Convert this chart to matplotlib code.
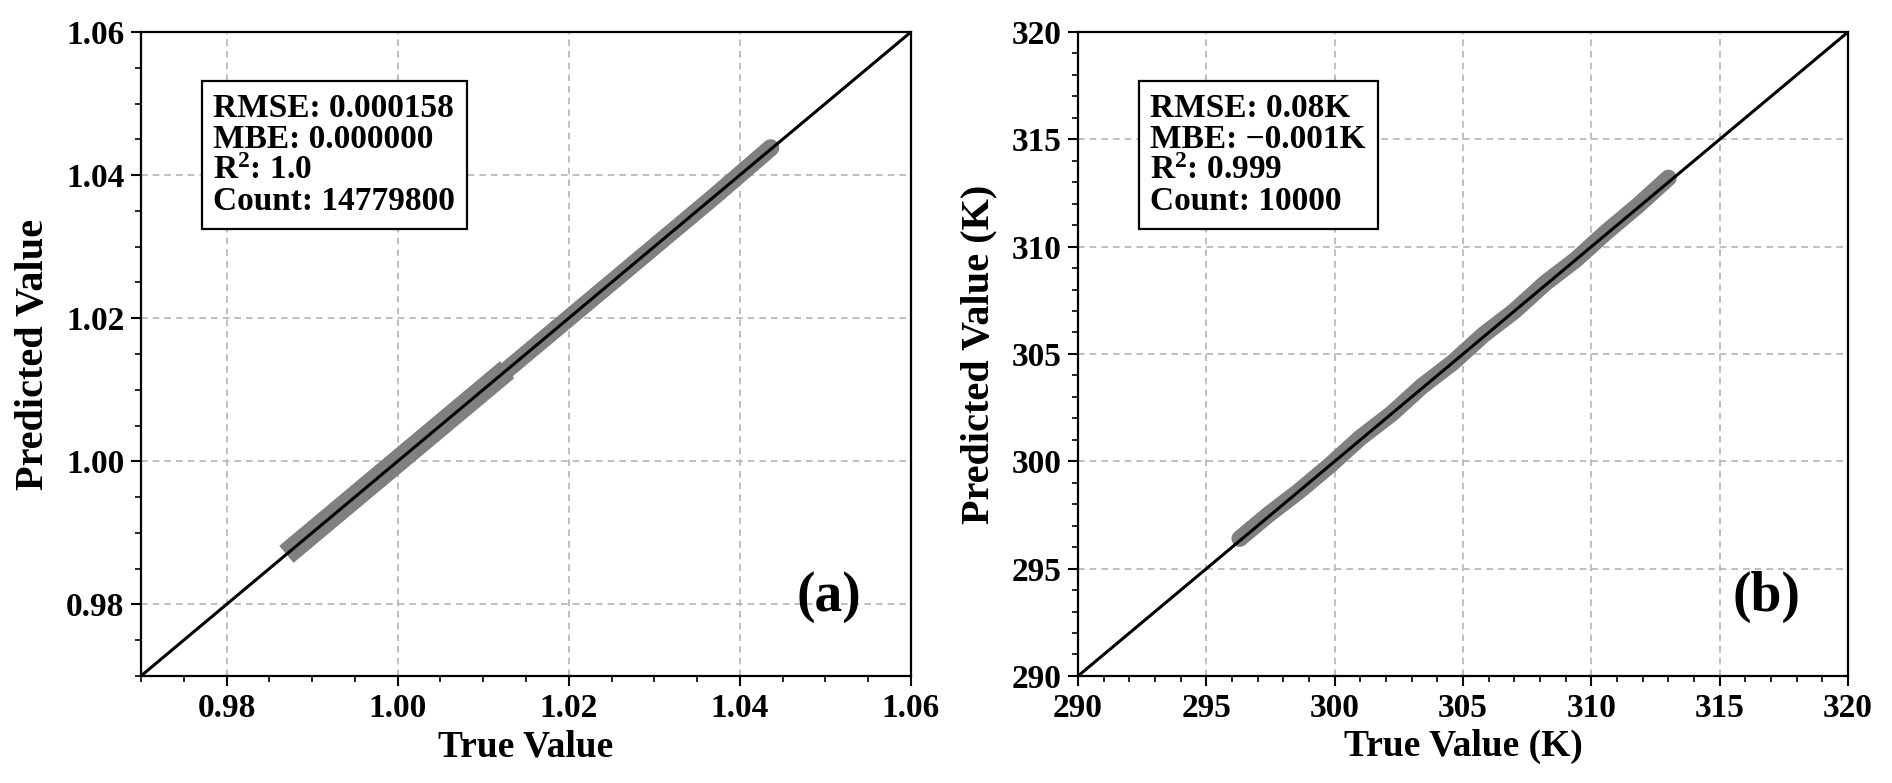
import matplotlib
matplotlib.use("Agg")
import matplotlib.pyplot as plt
from matplotlib.ticker import MultipleLocator

# ---- data ----
# panel (a): dimensionless value, two parts of the cloud (dense lower part, thinner upper part)
true_a_low = [0.9870, 0.9935, 1.0000, 1.0065, 1.0128]
pred_a_low = [0.9870, 0.9935, 1.0000, 1.0065, 1.0128]
true_a_high = [1.0128, 1.0190, 1.0250, 1.0310, 1.0370, 1.0436]
pred_a_high = [1.0128, 1.0190, 1.0250, 1.0310, 1.0370, 1.0438]
stats_a = ["RMSE: 0.000158", "MBE: 0.000000", "R$^2$: 1.0", "Count: 14779800"]

# panel (b): temperature in K
true_b = [296.3, 297.4, 298.6, 299.8, 301.0, 302.2, 303.4, 304.6, 305.8,
          307.0, 308.2, 309.4, 310.6, 311.8, 313.0]
pred_b = [296.4, 297.5, 298.6, 299.8, 301.1, 302.2, 303.5, 304.6, 305.9,
          307.0, 308.3, 309.4, 310.7, 311.9, 313.2]
stats_b = ["RMSE: 0.08K", "MBE: \u22120.001K", "R$^2$: 0.999", "Count: 10000"]

plt.rcParams["font.family"] = ["Liberation Serif", "DejaVu Serif"]
plt.rcParams["font.weight"] = "bold"
plt.rcParams["mathtext.fontset"] = "custom"
plt.rcParams["mathtext.rm"] = "Liberation Serif:bold"
plt.rcParams["mathtext.it"] = "Liberation Serif:bold"
plt.rcParams["mathtext.bf"] = "Liberation Serif:bold"

BAND = "#808080"

fig = plt.figure(figsize=(18.92, 7.83), dpi=100)
ax_a = fig.add_axes([0.0745, 0.1367, 0.4070, 0.8225])
ax_b = fig.add_axes([0.5698, 0.1367, 0.4070, 0.8225])


def style_axes(ax, lim, major, minor, xlabel, ylabel, tag):
    ax.set_xlim(lim)
    ax.set_ylim(lim)
    ax.plot(lim, lim, color="black", lw=2.2, zorder=4)
    ax.xaxis.set_major_locator(MultipleLocator(major))
    ax.yaxis.set_major_locator(MultipleLocator(major))
    ax.xaxis.set_minor_locator(MultipleLocator(minor))
    ax.yaxis.set_minor_locator(MultipleLocator(minor))
    ax.grid(True, which="major", color="#b4b4b4", ls=(0, (4, 3)), lw=1.2, zorder=0)
    ax.set_axisbelow(True)
    ax.tick_params(which="major", length=7, width=1.5, labelsize=24, pad=5)
    ax.tick_params(which="minor", length=4, width=1.2)
    for lab in ax.get_xticklabels() + ax.get_yticklabels():
        lab.set_fontweight("bold")
    for sp in ax.spines.values():
        sp.set_linewidth(1.6)
    ax.set_xlabel(xlabel, fontsize=27, fontweight="bold", labelpad=4)
    ax.set_ylabel(ylabel, fontsize=29, fontweight="bold", labelpad=10)
    ax.text(0.894, 0.122, tag, transform=ax.transAxes, fontsize=40,
            fontweight="bold", ha="center", va="center")


# panel (a)
ax_a.plot(true_a_low, pred_a_low, color=BAND, lw=16, solid_capstyle="butt", zorder=3)
ax_a.plot(true_a_high, pred_a_high, color=BAND, lw=12.5, solid_capstyle="round", zorder=3)
style_axes(ax_a, (0.97, 1.06), 0.02, 0.005, "True Value", "Predicted Value", "(a)")
ax_a.xaxis.set_major_formatter(plt.FormatStrFormatter("%.2f"))
ax_a.yaxis.set_major_formatter(plt.FormatStrFormatter("%.2f"))

# panel (b)
ax_b.plot(true_b, pred_b, color=BAND, lw=12, solid_capstyle="round", zorder=3)
style_axes(ax_b, (290, 320), 5, 1, "True Value (K)", "Predicted Value (K)", "(b)")

for ax, stats in [(ax_a, stats_a), (ax_b, stats_b)]:
    ax.text(0.094, 0.905, "\n".join(stats), transform=ax.transAxes,
            fontsize=24, fontweight="bold", ha="left", va="top", linespacing=1.0,
            zorder=6,
            bbox=dict(boxstyle="square,pad=0.35", fc="white", ec="black", lw=1.6))

fig.savefig("out.png", dpi=100)
